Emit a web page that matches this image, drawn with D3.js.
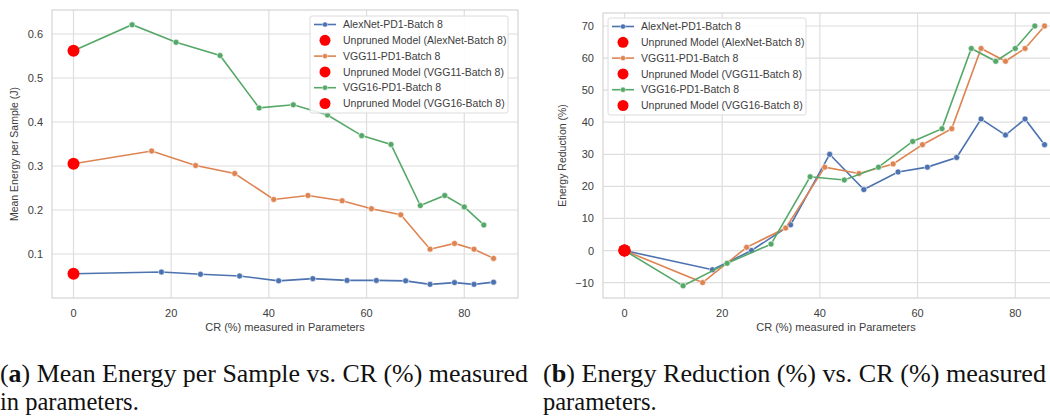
<!DOCTYPE html>
<html>
<head>
<meta charset="UTF-8">
<title>Energy vs CR</title>
<style>
  body { margin: 0; background: #fff; }
  svg { display: block; }
</style>
</head>
<body>
<div id="chart"></div>
<script src="https://cdn.jsdelivr.net/npm/d3@7"></script>
<script>
// CR (%) measured in parameters, per model
const alexCR  = [0, 18, 26, 34, 42, 49, 56, 62, 68, 73, 78, 82, 86];
const vgg11CR = [0, 16, 25, 33, 41, 48, 55, 61, 67, 73, 78, 82, 86];
const vgg16CR = [0, 12, 21, 30, 38, 45, 52, 59, 65, 71, 76, 80, 84];

// mean energy per sample (J)
const alexEnergy  = [0.055, 0.059, 0.054, 0.050, 0.039, 0.044, 0.040, 0.040, 0.039, 0.031, 0.035, 0.031, 0.036];
const vgg11Energy = [0.305, 0.334, 0.301, 0.283, 0.224, 0.233, 0.221, 0.203, 0.189, 0.111, 0.124, 0.111, 0.090];
const vgg16Energy = [0.562, 0.621, 0.581, 0.551, 0.432, 0.439, 0.416, 0.369, 0.349, 0.210, 0.233, 0.207, 0.166];

// energy reduction (%)
const alexReduction  = [0, -6, 0, 8, 30, 19, 24.5, 26, 29, 41, 36, 41, 33];
const vgg11Reduction = [0, -10, 1, 7, 26, 24, 27, 33, 38, 63, 59, 63, 70];
const vgg16Reduction = [0, -11, -4, 2, 23, 22, 26, 34, 38, 63, 59, 63, 70];

const models = ["AlexNet", "VGG11", "VGG16"];
const xTicks = [0, 20, 40, 60, 80];
const energyTicks = [0.1, 0.2, 0.3, 0.4, 0.5, 0.6];
const reductionTicks = [-10, 0, 10, 20, 30, 40, 50, 60, 70];

const colors = ["#4c72b0", "#dd8452", "#55a868"];
const font = "'Liberation Sans', Arial, sans-serif";
const gridColor = "#dedede";
const textColor = "#3d3d3d";

const svg = d3.select("#chart").append("svg")
    .attr("width", 1050)
    .attr("height", 416);

function drawPanel(opt) {
    const x = d3.scaleLinear().domain([-4.4, 91]).range(opt.xRange);
    const y = d3.scaleLinear().domain(opt.yDomain).range(opt.yRange);
    const g = svg.append("g");

    // grid
    g.selectAll(".gx").data(xTicks).enter().append("line")
        .attr("x1", d => x(d)).attr("x2", d => x(d))
        .attr("y1", opt.yRange[0]).attr("y2", opt.yRange[1])
        .attr("stroke", gridColor).attr("stroke-width", 1.2);
    g.selectAll(".gy").data(opt.yTicks).enter().append("line")
        .attr("x1", opt.xRange[0]).attr("x2", opt.xRange[1])
        .attr("y1", d => y(d)).attr("y2", d => y(d))
        .attr("stroke", gridColor).attr("stroke-width", 1.2);
    // frame
    g.append("rect")
        .attr("x", opt.xRange[0]).attr("y", opt.yRange[1])
        .attr("width", opt.xRange[1] - opt.xRange[0])
        .attr("height", opt.yRange[0] - opt.yRange[1])
        .attr("fill", "none").attr("stroke", "#d4d4d4").attr("stroke-width", 1.2);

    // tick labels
    g.selectAll(".tx").data(xTicks).enter().append("text")
        .attr("x", d => x(d)).attr("y", opt.yRange[0] + 19)
        .attr("text-anchor", "middle").attr("font-family", font)
        .attr("font-size", 11).attr("fill", textColor)
        .text(d => d);
    g.selectAll(".ty").data(opt.yTicks).enter().append("text")
        .attr("x", opt.xRange[0] - 9).attr("y", d => y(d) + 4)
        .attr("text-anchor", "end").attr("font-family", font)
        .attr("font-size", 11).attr("fill", textColor)
        .text(opt.fmt);

    // axis labels
    g.append("text")
        .attr("x", (opt.xRange[0] + opt.xRange[1]) / 2).attr("y", opt.yRange[0] + 33)
        .attr("text-anchor", "middle").attr("font-family", font)
        .attr("font-size", 11).attr("fill", textColor)
        .text("CR (%) measured in Parameters");
    g.append("text")
        .attr("transform", `translate(${opt.yLabelX},${(opt.yRange[0] + opt.yRange[1]) / 2}) rotate(-90)`)
        .attr("text-anchor", "middle").attr("font-family", font)
        .attr("font-size", 10.5).attr("fill", textColor)
        .text(opt.yLabel);

    // series
    const line = d3.line().x(d => x(d[0])).y(d => y(d[1]));
    opt.series.forEach((s, i) => {
        const pts = s.cr.map((c, k) => [c, s.vals[k]]);
        g.append("path").datum(pts)
            .attr("d", line).attr("fill", "none")
            .attr("stroke", colors[i]).attr("stroke-width", 1.6);
        g.selectAll(".p" + i).data(pts.slice(1)).enter().append("circle")
            .attr("cx", d => x(d[0])).attr("cy", d => y(d[1])).attr("r", 3)
            .attr("fill", colors[i]).attr("stroke", "#fff").attr("stroke-width", 0.6);
    });
    // unpruned model markers
    opt.series.forEach(s => {
        g.append("circle")
            .attr("cx", x(s.cr[0])).attr("cy", y(s.vals[0])).attr("r", 6)
            .attr("fill", "#ff0000");
    });

    // legend
    const lg = g.append("g").attr("transform", `translate(${opt.legend[0]},${opt.legend[1]})`);
    lg.append("rect")
        .attr("x", 0).attr("y", 0).attr("width", 198).attr("height", 97).attr("rx", 2)
        .attr("fill", "#fff").attr("fill-opacity", 0.85)
        .attr("stroke", "#dcdcdc").attr("stroke-width", 1);
    models.forEach((m, i) => {
        const y0 = 8.5 + i * 2 * 15.8;
        lg.append("line").attr("x1", 4).attr("x2", 26).attr("y1", y0).attr("y2", y0)
            .attr("stroke", colors[i]).attr("stroke-width", 1.6);
        lg.append("circle").attr("cx", 15).attr("cy", y0).attr("r", 2.6)
            .attr("fill", colors[i]).attr("stroke", "#fff").attr("stroke-width", 0.5);
        lg.append("text").attr("x", 33).attr("y", y0 + 3.6)
            .attr("font-family", font).attr("font-size", 10.5).attr("fill", textColor)
            .text(m + "-PD1-Batch 8");
        lg.append("circle").attr("cx", 15).attr("cy", y0 + 15.8).attr("r", 5.5)
            .attr("fill", "#ff0000");
        lg.append("text").attr("x", 33).attr("y", y0 + 15.8 + 3.6)
            .attr("font-family", font).attr("font-size", 10.5).attr("fill", textColor)
            .text("Unpruned Model (" + m + "-Batch 8)");
    });
}

drawPanel({
    xRange: [52, 518],
    yRange: [298, 10],
    yDomain: [0.0, 0.6545],
    yTicks: energyTicks,
    fmt: d => d.toFixed(1),
    yLabel: "Mean Energy per Sample (J)",
    yLabelX: 18,
    legend: [310, 16],
    series: [
        { cr: alexCR, vals: alexEnergy },
        { cr: vgg11CR, vals: vgg11Energy },
        { cr: vgg16CR, vals: vgg16Energy }
    ]
});

drawPanel({
    xRange: [603, 1069],
    yRange: [298, 13],
    yDomain: [-14.8, 74.05],
    yTicks: reductionTicks,
    fmt: d => d < 0 ? "\u2212" + Math.abs(d) : d,
    yLabel: "Energy Reduction (%)",
    yLabelX: 566,
    legend: [608, 18],
    series: [
        { cr: alexCR, vals: alexReduction },
        { cr: vgg11CR, vals: vgg11Reduction },
        { cr: vgg16CR, vals: vgg16Reduction }
    ]
});

// captions under each panel
const serif = "'Liberation Serif', 'DejaVu Serif', serif";
function caption(x0, letter, line1, line2, width1) {
    const t = svg.append("text").attr("x", x0).attr("y", 382)
        .attr("font-family", serif).attr("font-size", 24.5).attr("fill", "#111")
        .attr("textLength", width1).attr("lengthAdjust", "spacingAndGlyphs");
    t.append("tspan").text("(");
    t.append("tspan").attr("font-weight", "bold").text(letter);
    t.append("tspan").text(") " + line1);
    svg.append("text").attr("x", x0).attr("y", 410)
        .attr("font-family", serif).attr("font-size", 24.5).attr("fill", "#111")
        .text(line2);
}
caption(0, "a", "Mean Energy per Sample vs. CR (%) measured", "in parameters.", 528);
caption(543, "b", "Energy Reduction (%) vs. CR (%) measured", "parameters.", 503);
</script>
</body>
</html>
